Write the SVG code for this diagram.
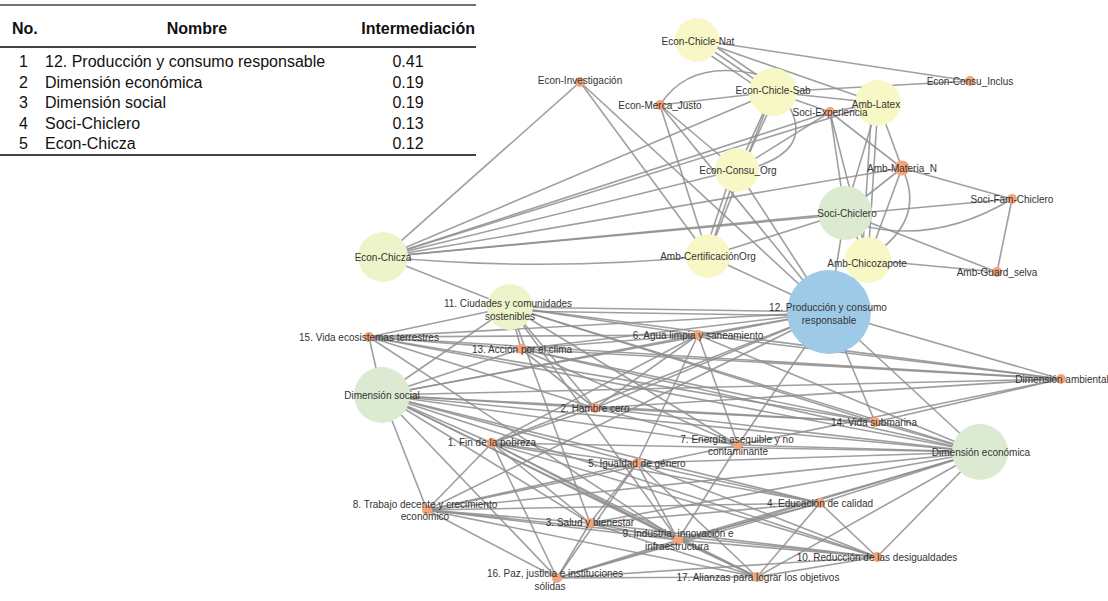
<svg xmlns="http://www.w3.org/2000/svg" width="1108" height="601" viewBox="0 0 1108 601">
  <style>
    .tbl { font-family: "Liberation Sans", Arial, sans-serif; font-size: 16px; fill: #111; }
    .th { font-weight: bold; }
    .rule { stroke: #444; fill: none; }
    #edges line, #edges path { stroke: #8e8e8e; stroke-width: 1.6; stroke-opacity: 0.85; fill: none; }
    .lbl { font-family: "Liberation Sans", Arial, sans-serif; font-size: 10px; fill: #333; text-anchor: middle; }
    .dot { fill: #f4a47a; }
    .yel { fill: #f8f8c6; }
    .ygr { fill: #eef4ca; }
    .grn { fill: #dcead2; }
    .blu { fill: #9ecae8; }
  </style>

  <rect x="0" y="0" width="1108" height="601" fill="#ffffff"/>

  <!-- betweenness table -->
  <g id="table">
    <line class="rule" x1="0" y1="5" x2="476" y2="5" stroke-width="1.5"/>
    <text class="tbl th" x="12" y="34">No.</text>
    <text class="tbl th" x="197" y="34" text-anchor="middle">Nombre</text>
    <text class="tbl th" x="475" y="34" text-anchor="end">Intermediación</text>
    <line class="rule" x1="0" y1="47" x2="476" y2="47" stroke-width="2.2"/>
    <g class="tbl">
      <text x="28" y="67" text-anchor="end">1</text>
      <text x="45" y="67">12. Producción y consumo responsable</text>
      <text x="408" y="67" text-anchor="middle">0.41</text>
      <text x="28" y="87.5" text-anchor="end">2</text>
      <text x="45" y="87.5">Dimensión económica</text>
      <text x="408" y="87.5" text-anchor="middle">0.19</text>
      <text x="28" y="108" text-anchor="end">3</text>
      <text x="45" y="108">Dimensión social</text>
      <text x="408" y="108" text-anchor="middle">0.19</text>
      <text x="28" y="128.5" text-anchor="end">4</text>
      <text x="45" y="128.5">Soci-Chiclero</text>
      <text x="408" y="128.5" text-anchor="middle">0.13</text>
      <text x="28" y="149" text-anchor="end">5</text>
      <text x="45" y="149">Econ-Chicza</text>
      <text x="408" y="149" text-anchor="middle">0.12</text>
    </g>
    <line class="rule" x1="0" y1="155" x2="476" y2="155" stroke-width="1.8"/>
  </g>

  <!-- connectors -->
  <g id="edges">
    <!-- upper cluster -->
    <line x1="383" y1="257" x2="580" y2="82"/>
    <line x1="383" y1="257" x2="773" y2="92"/>
    <line x1="383" y1="257" x2="830" y2="112"/>
    <line x1="383" y1="257" x2="878" y2="103"/>
    <line x1="383" y1="257" x2="737" y2="170"/>
    <line x1="383" y1="257" x2="902" y2="168"/>
    <line x1="383" y1="257" x2="845" y2="213"/>
    <line x1="383" y1="257" x2="1012" y2="199"/>
    <path d="M383,257 Q546,272 708,256"/>
    <line x1="383" y1="257" x2="510" y2="307"/>
    <line x1="580" y1="82" x2="708" y2="256"/>
    <line x1="580" y1="82" x2="829" y2="312"/>
    <line x1="660" y1="105" x2="773" y2="92"/>
    <path d="M660,105 Q690,58 760,75"/>
    <line x1="660" y1="105" x2="737" y2="170"/>
    <line x1="660" y1="105" x2="708" y2="256"/>
    <line x1="660" y1="105" x2="829" y2="312"/>
    <line x1="697" y1="40" x2="773" y2="92"/>
    <line x1="700" y1="36" x2="776" y2="88"/>
    <line x1="694" y1="44" x2="770" y2="96"/>
    <line x1="697" y1="40" x2="878" y2="103"/>
    <line x1="697" y1="40" x2="970" y2="81"/>
    <line x1="773" y1="92" x2="970" y2="81"/>
    <line x1="773" y1="92" x2="878" y2="103"/>
    <line x1="773" y1="92" x2="737" y2="170"/>
    <line x1="777" y1="93" x2="741" y2="171"/>
    <path d="M790,108 Q812,150 752,168"/>
    <line x1="773" y1="92" x2="708" y2="256"/>
    <line x1="773" y1="92" x2="830" y2="112"/>
    <line x1="737" y1="170" x2="829" y2="312"/>
    <line x1="737" y1="170" x2="708" y2="256"/>
    <line x1="733" y1="169" x2="704" y2="255"/>
    <line x1="737" y1="170" x2="830" y2="112"/>
    <line x1="830" y1="112" x2="902" y2="168"/>
    <line x1="830" y1="112" x2="845" y2="213"/>
    <line x1="830" y1="112" x2="868" y2="260"/>
    <line x1="830" y1="112" x2="878" y2="103"/>
    <line x1="878" y1="103" x2="902" y2="168"/>
    <line x1="878" y1="103" x2="845" y2="213"/>
    <line x1="878" y1="103" x2="868" y2="260"/>
    <line x1="872" y1="103" x2="862" y2="260"/>
    <line x1="902" y1="168" x2="1012" y2="199"/>
    <line x1="902" y1="168" x2="868" y2="260"/>
    <path d="M902,168 Q925,215 880,250"/>
    <line x1="902" y1="168" x2="845" y2="213"/>
    <line x1="845" y1="213" x2="868" y2="260"/>
    <path d="M860,225 Q935,245 1012,199"/>
    <line x1="845" y1="213" x2="997" y2="272"/>
    <line x1="845" y1="213" x2="829" y2="312"/>
    <line x1="845" y1="213" x2="708" y2="256"/>
    <line x1="868" y1="260" x2="997" y2="272"/>
    <line x1="868" y1="260" x2="829" y2="312"/>
    <line x1="1012" y1="199" x2="997" y2="272"/>
    <line x1="708" y1="256" x2="829" y2="312"/>

    <!-- 12. Producción y consumo responsable -->
    <line x1="829" y1="312" x2="510" y2="307"/>
    <line x1="829" y1="316" x2="510" y2="311"/>
    <line x1="829" y1="312" x2="369" y2="337"/>
    <line x1="829" y1="312" x2="698" y2="335"/>
    <line x1="829" y1="312" x2="521" y2="349"/>
    <line x1="829" y1="312" x2="382" y2="395"/>
    <line x1="829" y1="312" x2="595" y2="408"/>
    <line x1="829" y1="312" x2="738" y2="445"/>
    <line x1="829" y1="312" x2="875" y2="422"/>
    <line x1="829" y1="312" x2="980" y2="452"/>
    <line x1="829" y1="312" x2="1061" y2="379"/>
    <line x1="829" y1="312" x2="492" y2="443"/>
    <line x1="829" y1="312" x2="427" y2="510"/>

    <!-- Dimensión ambiental -->
    <line x1="1061" y1="379" x2="698" y2="335"/>
    <line x1="1061" y1="379" x2="510" y2="307"/>
    <line x1="1061" y1="379" x2="369" y2="337"/>
    <line x1="1061" y1="379" x2="521" y2="349"/>
    <line x1="1061" y1="379" x2="875" y2="422"/>
    <line x1="1061" y1="379" x2="738" y2="445"/>
    <line x1="1061" y1="379" x2="595" y2="408"/>
    <line x1="1061" y1="379" x2="382" y2="395"/>

    <!-- Dimensión económica -->
    <line x1="980" y1="452" x2="875" y2="422"/>
    <line x1="980" y1="452" x2="738" y2="445"/>
    <line x1="980" y1="452" x2="698" y2="335"/>
    <line x1="980" y1="452" x2="595" y2="408"/>
    <line x1="980" y1="452" x2="510" y2="307"/>
    <line x1="980" y1="452" x2="382" y2="395"/>
    <line x1="980" y1="452" x2="492" y2="443"/>
    <line x1="980" y1="452" x2="637" y2="463"/>
    <line x1="980" y1="452" x2="427" y2="510"/>
    <line x1="980" y1="452" x2="590" y2="523"/>
    <line x1="980" y1="452" x2="678" y2="540"/>
    <line x1="980" y1="452" x2="820" y2="503"/>
    <line x1="980" y1="452" x2="877" y2="557"/>
    <line x1="980" y1="452" x2="757" y2="577"/>
    <line x1="980" y1="452" x2="557" y2="578"/>
    <line x1="980" y1="452" x2="369" y2="337"/>
    <line x1="980" y1="452" x2="521" y2="349"/>

    <!-- Dimensión social -->
    <line x1="382" y1="395" x2="369" y2="337"/>
    <line x1="382" y1="395" x2="510" y2="307"/>
    <line x1="382" y1="395" x2="521" y2="349"/>
    <line x1="382" y1="395" x2="698" y2="335"/>
    <line x1="382" y1="395" x2="595" y2="408"/>
    <line x1="382" y1="395" x2="492" y2="443"/>
    <line x1="382" y1="395" x2="637" y2="463"/>
    <line x1="382" y1="395" x2="738" y2="445"/>
    <line x1="382" y1="395" x2="875" y2="422"/>
    <line x1="382" y1="395" x2="820" y2="503"/>
    <line x1="382" y1="395" x2="678" y2="540"/>
    <line x1="382" y1="395" x2="877" y2="557"/>
    <line x1="382" y1="395" x2="757" y2="577"/>
    <line x1="382" y1="395" x2="590" y2="523"/>
    <line x1="382" y1="395" x2="427" y2="510"/>
    <line x1="382" y1="395" x2="557" y2="578"/>

    <!-- 11. Ciudades y comunidades sostenibles -->
    <line x1="510" y1="307" x2="369" y2="337"/>
    <line x1="510" y1="307" x2="521" y2="349"/>
    <line x1="510" y1="307" x2="698" y2="335"/>
    <line x1="510" y1="307" x2="595" y2="408"/>
    <line x1="510" y1="307" x2="738" y2="445"/>
    <line x1="510" y1="307" x2="875" y2="422"/>
    <line x1="510" y1="307" x2="590" y2="523"/>
    <line x1="510" y1="307" x2="678" y2="540"/>

    <!-- 15. Vida ecosistemas terrestres -->
    <line x1="369" y1="337" x2="521" y2="349"/>
    <line x1="369" y1="337" x2="698" y2="335"/>
    <line x1="369" y1="337" x2="595" y2="408"/>
    <line x1="369" y1="337" x2="678" y2="540"/>
    <line x1="369" y1="337" x2="875" y2="422"/>

    <!-- 13. Acción por el clima -->
    <line x1="521" y1="349" x2="698" y2="335"/>
    <line x1="521" y1="349" x2="595" y2="408"/>
    <line x1="521" y1="349" x2="738" y2="445"/>
    <line x1="521" y1="349" x2="875" y2="422"/>

    <!-- 6. Agua limpia y saneamiento -->
    <line x1="698" y1="335" x2="595" y2="408"/>
    <line x1="698" y1="335" x2="492" y2="443"/>
    <line x1="698" y1="335" x2="738" y2="445"/>
    <line x1="698" y1="335" x2="637" y2="463"/>

    <!-- 2. Hambre cero -->
    <line x1="595" y1="408" x2="738" y2="445"/>
    <line x1="595" y1="408" x2="875" y2="422"/>
    <line x1="595" y1="408" x2="492" y2="443"/>

    <!-- 1. Fin de la pobreza -->
    <line x1="492" y1="443" x2="427" y2="510"/>
    <line x1="492" y1="443" x2="590" y2="523"/>
    <line x1="492" y1="443" x2="678" y2="540"/>
    <line x1="492" y1="443" x2="557" y2="578"/>
    <line x1="492" y1="443" x2="877" y2="557"/>
    <line x1="492" y1="443" x2="757" y2="577"/>
    <line x1="492" y1="443" x2="637" y2="463"/>
    <line x1="492" y1="443" x2="820" y2="503"/>

    <!-- 5. Igualdad de género -->
    <line x1="637" y1="463" x2="590" y2="523"/>
    <line x1="637" y1="463" x2="557" y2="578"/>
    <line x1="637" y1="463" x2="678" y2="540"/>
    <line x1="637" y1="463" x2="757" y2="577"/>
    <line x1="637" y1="463" x2="877" y2="557"/>
    <line x1="637" y1="463" x2="820" y2="503"/>
    <line x1="637" y1="463" x2="427" y2="510"/>

    <!-- 8. Trabajo decente y crecimiento económico -->
    <line x1="427" y1="510" x2="590" y2="523"/>
    <line x1="427" y1="510" x2="678" y2="540"/>
    <line x1="427" y1="510" x2="557" y2="578"/>
    <line x1="427" y1="510" x2="877" y2="557"/>
    <line x1="427" y1="510" x2="757" y2="577"/>
    <line x1="427" y1="510" x2="820" y2="503"/>
    <line x1="427" y1="510" x2="738" y2="445"/>

    <!-- 3. Salud y bienestar -->
    <line x1="590" y1="523" x2="557" y2="578"/>
    <line x1="590" y1="523" x2="678" y2="540"/>
    <line x1="590" y1="523" x2="757" y2="577"/>
    <line x1="590" y1="523" x2="877" y2="557"/>
    <line x1="590" y1="523" x2="820" y2="503"/>

    <!-- 9. Industria, innovación e infraestructura -->
    <line x1="678" y1="540" x2="557" y2="578"/>
    <line x1="678" y1="540" x2="757" y2="577"/>
    <line x1="678" y1="540" x2="877" y2="557"/>
    <line x1="678" y1="540" x2="820" y2="503"/>
    <line x1="678" y1="540" x2="738" y2="445"/>

    <!-- 4, 10, 16, 17 -->
    <line x1="820" y1="503" x2="877" y2="557"/>
    <line x1="820" y1="503" x2="757" y2="577"/>
    <line x1="820" y1="503" x2="557" y2="578"/>
    <line x1="877" y1="557" x2="757" y2="577"/>
    <line x1="877" y1="557" x2="557" y2="578"/>
    <line x1="557" y1="578" x2="757" y2="577"/>
  </g>

  <!-- nodes -->
  <g id="n-chicle-nat"><circle class="yel" cx="697" cy="40" r="22"/></g>
  <g id="n-investigacion"><circle class="dot" cx="580" cy="82" r="5"/></g>
  <g id="n-chicle-sab"><circle class="yel" cx="773" cy="92" r="24"/></g>
  <g id="n-merca-justo"><circle class="dot" cx="660" cy="105" r="5"/></g>
  <g id="n-consu-inclus"><circle class="dot" cx="970" cy="81" r="5"/></g>
  <g id="n-latex"><circle class="yel" cx="878" cy="103" r="23"/></g>
  <g id="n-experiencia"><circle class="dot" cx="830" cy="112" r="5"/></g>
  <g id="n-consu-org"><circle class="yel" cx="737" cy="170" r="22"/></g>
  <g id="n-materia"><circle class="dot" cx="902" cy="168" r="7.5"/></g>
  <g id="n-fam-chiclero"><circle class="dot" cx="1012" cy="199" r="5"/></g>
  <g id="n-soci-chiclero"><circle class="grn" cx="845" cy="213" r="27"/></g>
  <g id="n-chicozapote"><circle class="yel" cx="868" cy="260" r="23"/></g>
  <g id="n-guard-selva"><circle class="dot" cx="997" cy="272" r="5"/></g>
  <g id="n-certificacion"><circle class="yel" cx="708" cy="256" r="22"/></g>
  <g id="n-chicza"><circle class="ygr" cx="383" cy="257" r="25"/></g>
  <g id="n-ods12"><circle class="blu" cx="829" cy="312" r="42"/></g>
  <g id="n-ods11"><circle class="ygr" cx="510" cy="307" r="23"/></g>
  <g id="n-ods15"><circle class="dot" cx="369" cy="337" r="5"/></g>
  <g id="n-ods6"><circle class="dot" cx="698" cy="335" r="5"/></g>
  <g id="n-ods13"><circle class="dot" cx="521" cy="349" r="5"/></g>
  <g id="n-dim-social"><circle class="grn" cx="382" cy="395" r="28"/></g>
  <g id="n-dim-ambiental"><circle class="dot" cx="1061" cy="379" r="5"/></g>
  <g id="n-ods2"><circle class="dot" cx="595" cy="408" r="5"/></g>
  <g id="n-ods14"><circle class="dot" cx="875" cy="422" r="5"/></g>
  <g id="n-ods7"><circle class="dot" cx="738" cy="445" r="5"/></g>
  <g id="n-ods1"><circle class="dot" cx="492" cy="443" r="5"/></g>
  <g id="n-dim-economica"><circle class="grn" cx="980" cy="452" r="28"/></g>
  <g id="n-ods5"><circle class="dot" cx="637" cy="463" r="5"/></g>
  <g id="n-ods8"><circle class="dot" cx="427" cy="510" r="5"/></g>
  <g id="n-ods4"><circle class="dot" cx="820" cy="503" r="5"/></g>
  <g id="n-ods3"><circle class="dot" cx="590" cy="523" r="5"/></g>
  <g id="n-ods9"><circle class="dot" cx="678" cy="540" r="5"/></g>
  <g id="n-ods10"><circle class="dot" cx="877" cy="557" r="5"/></g>
  <g id="n-ods16"><circle class="dot" cx="557" cy="578" r="5"/></g>
  <g id="n-ods17"><circle class="dot" cx="757" cy="577" r="5"/></g>

  <!-- node labels -->
  <g id="labels" class="lbl">
    <text class="lbl" x="698" y="45">Econ-Chicle-Nat</text>
    <text class="lbl" x="580" y="84">Econ-Investigación</text>
    <text class="lbl" x="773" y="94">Econ-Chicle-Sab</text>
    <text class="lbl" x="660" y="109">Econ-Merca_Justo</text>
    <text class="lbl" x="970" y="85">Econ-Consu_Inclus</text>
    <text class="lbl" x="876" y="108">Amb-Latex</text>
    <text class="lbl" x="830" y="116">Soci-Experiencia</text>
    <text class="lbl" x="738" y="174">Econ-Consu_Org</text>
    <text class="lbl" x="902" y="172">Amb-Materia_N</text>
    <text class="lbl" x="1012" y="203">Soci-Fam-Chiclero</text>
    <text class="lbl" x="847" y="217">Soci-Chiclero</text>
    <text class="lbl" x="867" y="267">Amb-Chicozapote</text>
    <text class="lbl" x="997" y="276">Amb-Guard_selva</text>
    <text class="lbl" x="708" y="260">Amb-CertificaciónOrg</text>
    <text class="lbl" x="383" y="261">Econ-Chicza</text>
    <text class="lbl" x="828" y="311">12. Producción y consumo</text>
    <text class="lbl" x="829" y="324">responsable</text>
    <text class="lbl" x="508" y="307">11. Ciudades y comunidades</text>
    <text class="lbl" x="510" y="320">sostenibles</text>
    <text class="lbl" x="369" y="341">15. Vida ecosistemas terrestres</text>
    <text class="lbl" x="698" y="339">6. Agua limpia y saneamiento</text>
    <text class="lbl" x="522" y="353">13. Acción por el clima</text>
    <text class="lbl" x="382" y="399">Dimensión social</text>
    <text class="lbl" x="1062" y="383">Dimensión ambiental</text>
    <text class="lbl" x="595" y="412">2. Hambre cero</text>
    <text class="lbl" x="874" y="426">14. Vida submarina</text>
    <text class="lbl" x="737" y="443">7. Energía asequible y no</text>
    <text class="lbl" x="738" y="455">contaminante</text>
    <text class="lbl" x="492" y="446">1. Fin de la pobreza</text>
    <text class="lbl" x="981" y="456">Dimensión económica</text>
    <text class="lbl" x="637" y="467">5. Igualdad de género</text>
    <text class="lbl" x="425" y="508">8. Trabajo decente y crecimiento</text>
    <text class="lbl" x="425" y="520">económico</text>
    <text class="lbl" x="820" y="507">4. Educación de calidad</text>
    <text class="lbl" x="590" y="526">3. Salud y bienestar</text>
    <text class="lbl" x="678" y="537">9. Industria, innovación e</text>
    <text class="lbl" x="677" y="550">infraestructura</text>
    <text class="lbl" x="877" y="561">10. Reducción de las desigualdades</text>
    <text class="lbl" x="555" y="577">16. Paz, justicia e instituciones</text>
    <text class="lbl" x="550" y="590">sólidas</text>
    <text class="lbl" x="758" y="581">17. Alianzas para lograr los objetivos</text>
  </g>
</svg>
